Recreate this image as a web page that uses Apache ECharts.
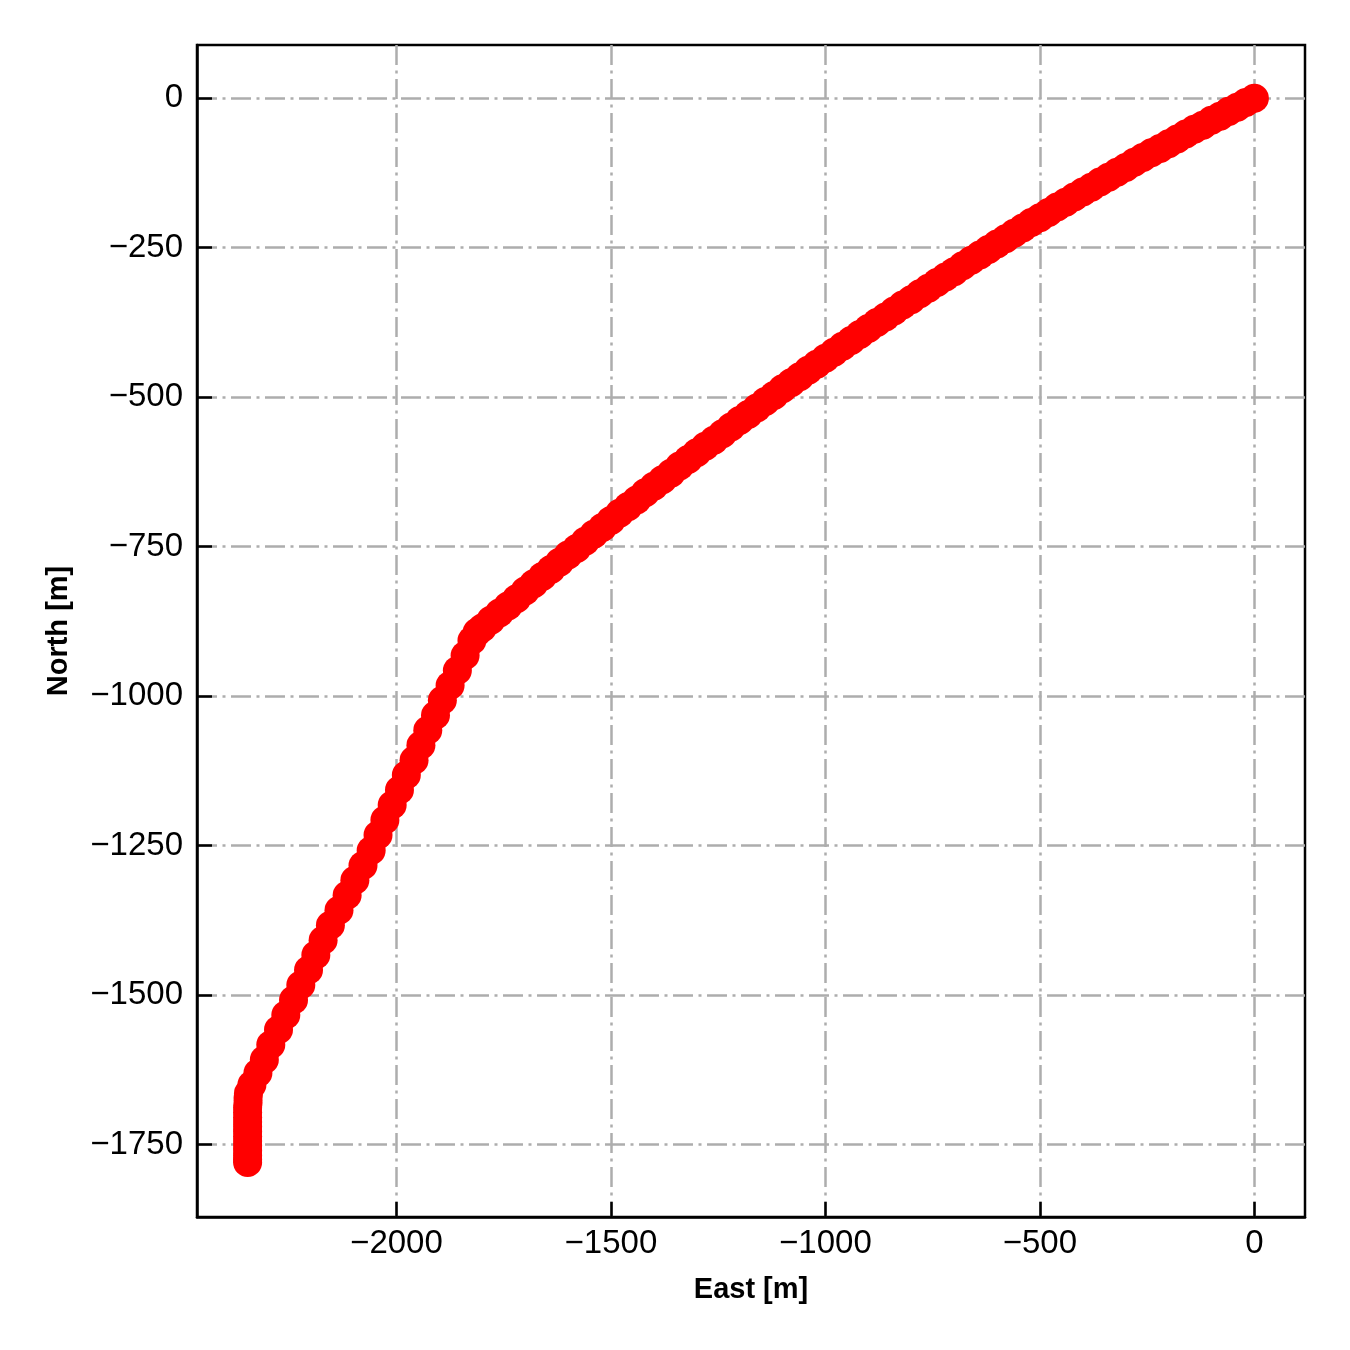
<!DOCTYPE html>
<html>
<head>
<meta charset="utf-8">
<script src="https://cdn.jsdelivr.net/npm/echarts@6/dist/echarts.min.js"></script>
<style>
html,body{margin:0;padding:0;background:#fff;}
#chart{width:1350px;height:1350px;}
</style>
</head>
<body>
<div id="chart"></div>
<script>
// East [m] and North [m] values
const eastValues = [
  0, -20, -40, -60, -80, -100, -120, -140, -160, -180, -200, -220, -240, -260, -280,
  -300, -320, -340, -360, -380, -400, -420, -440, -460, -480, -500, -520, -540, -560, -580,
  -600, -620, -640, -660, -680, -700, -720, -740, -760, -780, -800, -820, -840, -860, -880,
  -900, -920, -940, -960, -980, -1000, -1020, -1040, -1060, -1080, -1100, -1120, -1140, -1160, -1180,
  -1200, -1220, -1240, -1260, -1280, -1300, -1320, -1340, -1360, -1380, -1400, -1420, -1440, -1460, -1480,
  -1500, -1520, -1540, -1560, -1580, -1600, -1620, -1640, -1660, -1680, -1700, -1720, -1740, -1760, -1780,
  -1800, -1812,
  -1824, -1840, -1858, -1875, -1893, -1909, -1927, -1943, -1959, -1977, -1993, -2010, -2027, -2043,
  -2059, -2078, -2097, -2115, -2134, -2154, -2171, -2188, -2205, -2223, -2240, -2258, -2275, -2293,
  -2308, -2323, -2337, -2345,
  -2346, -2346, -2347, -2347, -2347, -2347, -2347, -2347, -2347, -2347, -2347, -2347, -2347, -2347, -2347
];
const northValues = [
  0, -7, -15, -22, -30, -37, -45, -52, -60, -68, -76, -84, -91, -99, -107,
  -116, -124, -132, -140, -149, -157, -165, -174, -182, -191, -200, -208, -217, -226, -235,
  -244, -253, -262, -271, -280, -290, -299, -308, -318, -327, -337, -346, -356, -366, -375,
  -385, -395, -405, -415, -425, -435, -445, -455, -466, -476, -486, -497, -507, -518, -529,
  -539, -550, -561, -572, -582, -593, -604, -615, -627, -638, -649, -660, -672, -683, -694,
  -706, -718, -729, -741, -753, -764, -776, -788, -800, -812, -824, -837, -849, -861, -873,
  -886, -893,
  -907, -932, -957, -982, -1007, -1032, -1057, -1082, -1107, -1132, -1157, -1182, -1207, -1232,
  -1258, -1283, -1308, -1333, -1358, -1383, -1408, -1433, -1458, -1483, -1508, -1533, -1558, -1583,
  -1608, -1630, -1650, -1664,
  -1672, -1680, -1688, -1696, -1704, -1712, -1720, -1728, -1736, -1744, -1752, -1760, -1768, -1775, -1780
];
const xTicks = [-2000, -1500, -1000, -500, 0];
const yTicks = [-1750, -1500, -1250, -1000, -750, -500, -250, 0];

const points = eastValues.map((e, i) => [e, northValues[i]]);
const fmt = v => (v < 0 ? '\u2212' + Math.abs(v) : String(v));
const FONT = '"Liberation Sans", Arial, sans-serif';
const gridLine = { color: '#adadad', width: 2.5, type: [20, 5.5, 3, 5.5] };

const chart = echarts.init(document.getElementById('chart'), null, { renderer: 'canvas' });
chart.setOption({
  animation: false,
  backgroundColor: '#fff',
  grid: { left: 197, right: 45, top: 45, bottom: 133, show: true, borderColor: '#000', borderWidth: 2.5, backgroundColor: 'transparent', containLabel: false },
  xAxis: {
    type: 'value', min: -2465, max: 118,
    name: 'East [m]', nameLocation: 'middle', nameGap: 58,
    nameTextStyle: { fontFamily: FONT, fontSize: 29, fontWeight: 'bold', color: '#000' },
    axisLine: { show: true, onZero: false, lineStyle: { color: '#000', width: 2.5 } },
    axisTick: { show: true, inside: true, length: 15, customValues: xTicks, lineStyle: { color: '#000', width: 2.5 } },
    axisLabel: { customValues: xTicks, formatter: fmt, margin: 10, fontFamily: FONT, fontSize: 33, color: '#000' },
    splitLine: { show: true, lineStyle: gridLine }
  },
  yAxis: {
    type: 'value', min: -1871, max: 89,
    name: 'North [m]', nameLocation: 'middle', nameGap: 124, nameRotate: 90,
    nameTextStyle: { fontFamily: FONT, fontSize: 29, fontWeight: 'bold', color: '#000' },
    axisLine: { show: true, onZero: false, lineStyle: { color: '#000', width: 2.5 } },
    axisTick: { show: true, inside: true, length: 15, customValues: yTicks, lineStyle: { color: '#000', width: 2.5 } },
    axisLabel: { customValues: yTicks, formatter: fmt, margin: 14, fontFamily: FONT, fontSize: 33, color: '#000' },
    splitLine: { show: true, lineStyle: gridLine }
  },
  series: [{
    type: 'scatter',
    data: points,
    symbol: 'circle',
    symbolSize: 29,
    itemStyle: { color: '#ff0000', opacity: 1 },
    emphasis: { disabled: true },
    z: 5
  }]
});
</script>
</body>
</html>
